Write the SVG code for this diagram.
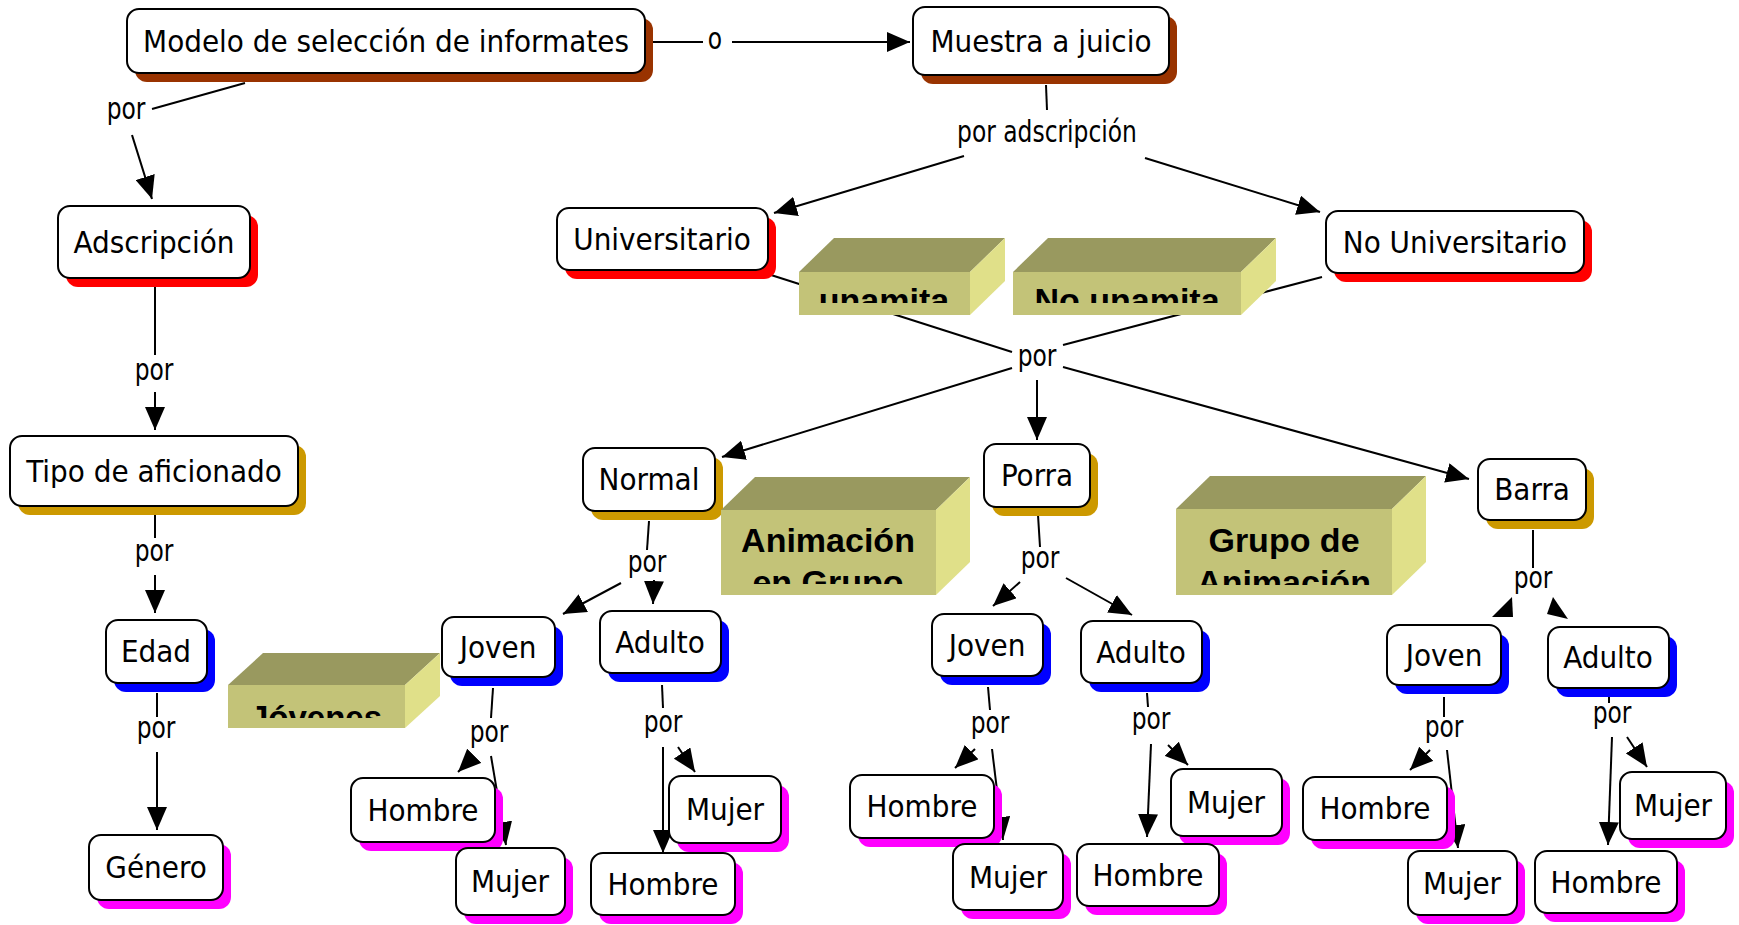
<svg xmlns="http://www.w3.org/2000/svg" width="1739" height="925" viewBox="0 0 1739 925">
<defs>
<style>
.box{fill:#fff;stroke:#000;stroke-width:2}
.sb{fill:#993300}.sr{fill:#FF0000}.sg{fill:#CC9900}.su{fill:#0000FF}.sm{fill:#FF00FF}
.t{font-family:"DejaVu Sans Condensed","DejaVu Sans",sans-serif;font-size:31px;text-anchor:middle;fill:#000}
.l{font-family:"DejaVu Sans Condensed","DejaVu Sans",sans-serif;font-size:26px;text-anchor:middle;fill:#000}
.c{fill:none;stroke:#000;stroke-width:2}
.a{marker-end:url(#ah)}
.top{fill:#99995F}.front{fill:#C3C378}.side{fill:#E0E089}
.bt{font-family:"Liberation Sans",Arial,sans-serif;font-weight:bold;font-size:34px;text-anchor:middle;fill:#000}
</style>
<marker id="ah" markerUnits="userSpaceOnUse" markerWidth="24" markerHeight="20" refX="23" refY="10" orient="auto"><path d="M0,0 L23,10 L0,20 z" fill="#000"/></marker>
<clipPath id="cp1"><rect x="799" y="272" width="171" height="31"/></clipPath>
<clipPath id="cp2"><rect x="1013" y="272" width="228" height="31"/></clipPath>
<clipPath id="cp3"><rect x="721" y="510" width="215" height="74"/></clipPath>
<clipPath id="cp4"><rect x="1176" y="509" width="216" height="76"/></clipPath>
<clipPath id="cp5"><rect x="228" y="685" width="177" height="33"/></clipPath>
</defs>
<rect width="1739" height="925" fill="#fff"/>
<g id="connectors">
<path class="c" d="M653,42 L703,42"/>
<path class="c a" d="M732,42 L910,42"/>
<path class="c" d="M245,83 L152,109"/>
<path class="c a" d="M132,135 L152,199"/>
<path class="c" d="M1046,85 L1047,110"/>
<path class="c a" d="M964,156 L774,213"/>
<path class="c a" d="M1145,158 L1320,212"/>
<path class="c" d="M771,275 L1012,352"/>
<path class="c" d="M1322,277 L1063,345"/>
<path class="c a" d="M1012,368 L722,457"/>
<path class="c a" d="M1037,380 L1037,440"/>
<path class="c a" d="M1063,367 L1469,479"/>
<path class="c" d="M155,287 L155,355"/>
<path class="c a" d="M155,392 L155,430"/>
<path class="c" d="M155,515 L155,538"/>
<path class="c a" d="M155,575 L155,613"/>
<path class="c" d="M157,693 L157,717"/>
<path class="c a" d="M157,752 L157,830"/>
<path class="c" d="M649,521 L647,550"/>
<path class="c a" d="M621,583 L563,614"/>
<path class="c a" d="M654,580 L653,604"/>
<path class="c" d="M493,688 L491,718"/>
<path class="c a" d="M473,757 L458,772"/>
<path class="c a" d="M491,756 L506,845"/>
<path class="c" d="M662,685 L663,708"/>
<path class="c a" d="M678,747 L695,772"/>
<path class="c a" d="M663,747 L663,853"/>
<path class="c" d="M1038,515 L1040,547"/>
<path class="c a" d="M1020,582 L993,606"/>
<path class="c a" d="M1066,578 L1132,615"/>
<path class="c" d="M988,687 L990,710"/>
<path class="c a" d="M975,749 L955,768"/>
<path class="c a" d="M992,749 L1003,840"/>
<path class="c" d="M1147,693 L1148,707"/>
<path class="c a" d="M1151,744 L1147,837"/>
<path class="c a" d="M1168,745 L1188,765"/>
<path class="c" d="M1533,530 L1533,568"/>
<polygon points="1512,597 1492,617 1513,617" fill="#000"/>
<polygon points="1553,597 1547,614 1568,619" fill="#000"/>
<path class="c" d="M1444,697 L1444,717"/>
<path class="c a" d="M1430,750 L1410,770"/>
<path class="c a" d="M1447,750 L1458,848"/>
<path class="c" d="M1609,697 L1609,703"/>
<path class="c a" d="M1612,737 L1608,845"/>
<path class="c a" d="M1627,737 L1647,767"/>
</g>
<g id="labels">
<text class="l" transform="translate(715,49) scale(1,1.15)">o</text>
<text class="l" transform="translate(126,119) scale(1,1.15)">por</text>
<text class="l" transform="translate(1047,142) scale(1,1.15)">por adscripción</text>
<text class="l" transform="translate(1037,366) scale(1,1.15)">por</text>
<text class="l" transform="translate(154,380) scale(1,1.15)">por</text>
<text class="l" transform="translate(154,561) scale(1,1.15)">por</text>
<text class="l" transform="translate(156,738) scale(1,1.15)">por</text>
<text class="l" transform="translate(647,572) scale(1,1.15)">por</text>
<text class="l" transform="translate(489,742) scale(1,1.15)">por</text>
<text class="l" transform="translate(663,732) scale(1,1.15)">por</text>
<text class="l" transform="translate(1040,568) scale(1,1.15)">por</text>
<text class="l" transform="translate(990,733) scale(1,1.15)">por</text>
<text class="l" transform="translate(1151,729) scale(1,1.15)">por</text>
<text class="l" transform="translate(1533,588) scale(1,1.15)">por</text>
<text class="l" transform="translate(1444,737) scale(1,1.15)">por</text>
<text class="l" transform="translate(1612,723) scale(1,1.15)">por</text>
</g>
<g id="n_modelo"><rect class="sb" x="135" y="18" width="518" height="64" rx="12"/><rect class="box" x="127" y="9" width="518" height="64" rx="12"/><text class="t" x="386" y="52">Modelo de selección de informates</text></g>
<g id="n_muestra"><rect class="sb" x="921" y="16" width="256" height="68" rx="12"/><rect class="box" x="913" y="7" width="256" height="68" rx="12"/><text class="t" x="1041" y="52">Muestra a juicio</text></g>
<g id="n_adscripcion"><rect class="sr" x="66" y="215" width="192" height="72" rx="12"/><rect class="box" x="58" y="206" width="192" height="72" rx="12"/><text class="t" x="154" y="253">Adscripción</text></g>
<g id="n_universitario"><rect class="sr" x="565" y="217" width="211" height="62" rx="12"/><rect class="box" x="557" y="208" width="211" height="62" rx="12"/><text class="t" x="662" y="250">Universitario</text></g>
<g id="n_nouniversitario"><rect class="sr" x="1334" y="220" width="258" height="62" rx="12"/><rect class="box" x="1326" y="211" width="258" height="62" rx="12"/><text class="t" x="1455" y="253">No Universitario</text></g>
<g id="n_tipo"><rect class="sg" x="18" y="445" width="288" height="70" rx="12"/><rect class="box" x="10" y="436" width="288" height="70" rx="12"/><text class="t" x="154" y="482">Tipo de aficionado</text></g>
<g id="n_normal"><rect class="sg" x="591" y="457" width="132" height="63" rx="12"/><rect class="box" x="583" y="448" width="132" height="63" rx="12"/><text class="t" x="649" y="490">Normal</text></g>
<g id="n_porra"><rect class="sg" x="992" y="453" width="106" height="63" rx="12"/><rect class="box" x="984" y="444" width="106" height="63" rx="12"/><text class="t" x="1037" y="486">Porra</text></g>
<g id="n_barra"><rect class="sg" x="1486" y="468" width="108" height="61" rx="12"/><rect class="box" x="1478" y="459" width="108" height="61" rx="12"/><text class="t" x="1532" y="500">Barra</text></g>
<g id="n_edad"><rect class="su" x="114" y="629" width="101" height="63" rx="12"/><rect class="box" x="106" y="620" width="101" height="63" rx="12"/><text class="t" x="156" y="662">Edad</text></g>
<g id="n_joven1"><rect class="su" x="450" y="626" width="113" height="60" rx="12"/><rect class="box" x="442" y="617" width="113" height="60" rx="12"/><text class="t" x="498" y="658">Joven</text></g>
<g id="n_adulto1"><rect class="su" x="608" y="620" width="121" height="62" rx="12"/><rect class="box" x="600" y="611" width="121" height="62" rx="12"/><text class="t" x="660" y="653">Adulto</text></g>
<g id="n_joven2"><rect class="su" x="940" y="623" width="111" height="62" rx="12"/><rect class="box" x="932" y="614" width="111" height="62" rx="12"/><text class="t" x="987" y="656">Joven</text></g>
<g id="n_adulto2"><rect class="su" x="1089" y="630" width="121" height="62" rx="12"/><rect class="box" x="1081" y="621" width="121" height="62" rx="12"/><text class="t" x="1141" y="663">Adulto</text></g>
<g id="n_joven3"><rect class="su" x="1395" y="634" width="114" height="60" rx="12"/><rect class="box" x="1387" y="625" width="114" height="60" rx="12"/><text class="t" x="1444" y="666">Joven</text></g>
<g id="n_adulto3"><rect class="su" x="1556" y="636" width="121" height="61" rx="12"/><rect class="box" x="1548" y="627" width="121" height="61" rx="12"/><text class="t" x="1608" y="668">Adulto</text></g>
<g id="n_genero"><rect class="sm" x="97" y="844" width="134" height="65" rx="12"/><rect class="box" x="89" y="835" width="134" height="65" rx="12"/><text class="t" x="156" y="878">Género</text></g>
<g id="n_hombre1"><rect class="sm" x="359" y="787" width="144" height="64" rx="12"/><rect class="box" x="351" y="778" width="144" height="64" rx="12"/><text class="t" x="423" y="821">Hombre</text></g>
<g id="n_mujer1"><rect class="sm" x="464" y="857" width="109" height="67" rx="12"/><rect class="box" x="456" y="848" width="109" height="67" rx="12"/><text class="t" x="510" y="892">Mujer</text></g>
<g id="n_mujer2"><rect class="sm" x="677" y="785" width="112" height="67" rx="12"/><rect class="box" x="669" y="776" width="112" height="67" rx="12"/><text class="t" x="725" y="820">Mujer</text></g>
<g id="n_hombre2"><rect class="sm" x="599" y="862" width="144" height="62" rx="12"/><rect class="box" x="591" y="853" width="144" height="62" rx="12"/><text class="t" x="663" y="895">Hombre</text></g>
<g id="n_hombre3"><rect class="sm" x="858" y="784" width="144" height="63" rx="12"/><rect class="box" x="850" y="775" width="144" height="63" rx="12"/><text class="t" x="922" y="817">Hombre</text></g>
<g id="n_mujer3"><rect class="sm" x="961" y="853" width="110" height="66" rx="12"/><rect class="box" x="953" y="844" width="110" height="66" rx="12"/><text class="t" x="1008" y="888">Mujer</text></g>
<g id="n_mujer4"><rect class="sm" x="1179" y="778" width="111" height="67" rx="12"/><rect class="box" x="1171" y="769" width="111" height="67" rx="12"/><text class="t" x="1226" y="813">Mujer</text></g>
<g id="n_hombre4"><rect class="sm" x="1085" y="853" width="142" height="62" rx="12"/><rect class="box" x="1077" y="844" width="142" height="62" rx="12"/><text class="t" x="1148" y="886">Hombre</text></g>
<g id="n_hombre5"><rect class="sm" x="1311" y="786" width="144" height="63" rx="12"/><rect class="box" x="1303" y="777" width="144" height="63" rx="12"/><text class="t" x="1375" y="819">Hombre</text></g>
<g id="n_mujer5"><rect class="sm" x="1416" y="860" width="109" height="64" rx="12"/><rect class="box" x="1408" y="851" width="109" height="64" rx="12"/><text class="t" x="1462" y="894">Mujer</text></g>
<g id="n_mujer6"><rect class="sm" x="1628" y="781" width="106" height="67" rx="12"/><rect class="box" x="1620" y="772" width="106" height="67" rx="12"/><text class="t" x="1673" y="816">Mujer</text></g>
<g id="n_hombre6"><rect class="sm" x="1543" y="860" width="142" height="62" rx="12"/><rect class="box" x="1535" y="851" width="142" height="62" rx="12"/><text class="t" x="1606" y="893">Hombre</text></g>
<g id="b_unamita"><polygon class="top" points="799,272 834,238 1005,238 970,272"/><polygon class="side" points="970,272 1005,238 1005,281 970,315"/><rect class="front" x="799" y="272" width="171" height="43"/><g clip-path="url(#cp1)"><text class="bt" x="884" y="312">unamita</text></g></g>
<g id="b_nounamita"><polygon class="top" points="1013,272 1048,238 1276,238 1241,272"/><polygon class="side" points="1241,272 1276,238 1276,281 1241,315"/><rect class="front" x="1013" y="272" width="228" height="43"/><g clip-path="url(#cp2)"><text class="bt" x="1127" y="312">No unamita</text></g></g>
<g id="b_animacion"><polygon class="top" points="721,510 755,477 970,477 936,510"/><polygon class="side" points="936,510 970,477 970,562 936,595"/><rect class="front" x="721" y="510" width="215" height="85"/><g clip-path="url(#cp3)"><text class="bt" x="828" y="552">Animación</text><text class="bt" x="828" y="594">en Grupo</text></g></g>
<g id="b_grupo"><polygon class="top" points="1176,509 1210,476 1426,476 1392,509"/><polygon class="side" points="1392,509 1426,476 1426,562 1392,595"/><rect class="front" x="1176" y="509" width="216" height="86"/><g clip-path="url(#cp4)"><text class="bt" x="1284" y="552">Grupo de</text><text class="bt" x="1284" y="594">Animación</text></g></g>
<g id="b_jovenes"><polygon class="top" points="228,685 263,653 440,653 405,685"/><polygon class="side" points="405,685 440,653 440,696 405,728"/><rect class="front" x="228" y="685" width="177" height="43"/><g clip-path="url(#cp5)"><text class="bt" x="316" y="729" style="font-size:33px">Jóvenes</text></g></g>
</svg>
